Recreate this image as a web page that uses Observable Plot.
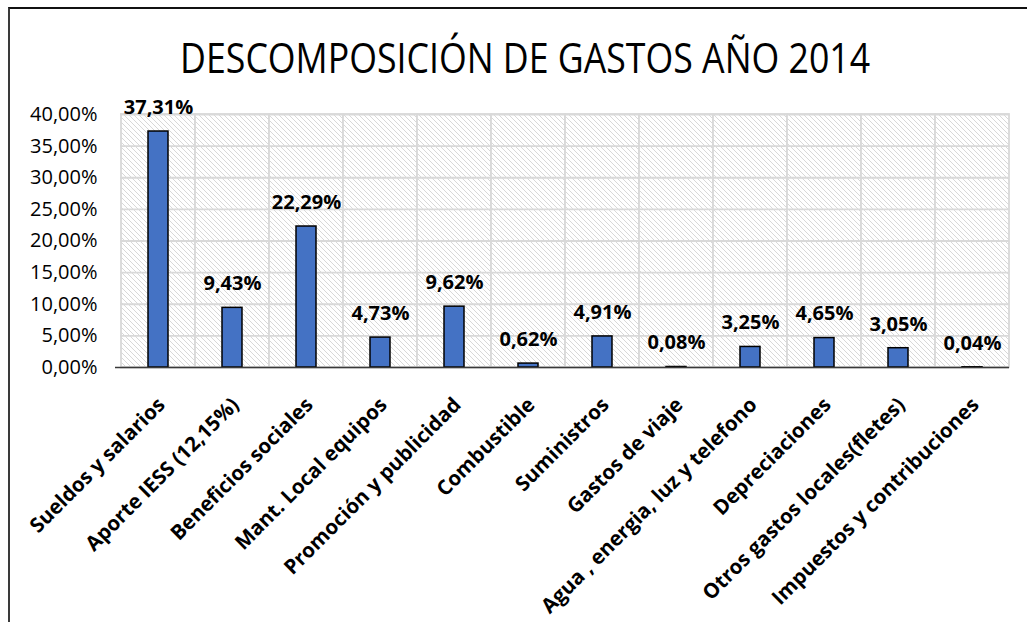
<!DOCTYPE html>
<html><head><meta charset="utf-8">
<script src="https://cdn.jsdelivr.net/npm/d3@7"></script>
<script src="https://cdn.jsdelivr.net/npm/@observablehq/plot@0.6"></script>
<style>
html,body{margin:0;padding:0;background:#fff;overflow:hidden;width:1027px;height:622px}
#frame{position:absolute;left:8px;top:7px;width:1100px;height:700px;border-left:2px solid #3a3a3a;border-top:2px solid #111;box-sizing:border-box}
#title{position:absolute;left:0;width:1050px;top:36px;text-align:center;font-family:'Open Sans',sans-serif;font-weight:400;font-size:42px;line-height:1;color:#000;white-space:nowrap}
#title span{display:inline-block;transform-origin:center}
#chart{position:absolute;left:0;top:96px}
</style></head><body>
<div id="frame"></div>
<svg width="0" height="0" style="position:absolute"><defs>
<pattern id="hatch" width="5" height="5" patternUnits="userSpaceOnUse">
<rect width="5" height="5" fill="#fff"/>
<path d="M-1,-1 L6,6 M-1,4 L1,6 M4,-1 L6,1" stroke="#d8d8d8" stroke-width="1"/>
</pattern></defs></svg>
<div id="title"><span>DESCOMPOSICIÓN DE GASTOS AÑO 2014</span></div>
<div id="chart"></div>
<script>
const categories = ["Sueldos y salarios","Aporte IESS (12,15%)","Beneficios sociales","Mant. Local equipos","Promoción y publicidad","Combustible","Suministros","Gastos de viaje","Agua , energia, luz y telefono","Depreciaciones","Otros gastos locales(fletes)","Impuestos y contribuciones"];
const values = [0.3731, 0.0943, 0.2229, 0.0473, 0.0962, 0.0062, 0.0491, 0.0008, 0.0325, 0.0465, 0.0305, 0.0004];
const yTicks = [0, 0.05, 0.10, 0.15, 0.20, 0.25, 0.30, 0.35, 0.40];

const locale = d3.formatLocale({decimal: ",", thousands: ".", grouping: [3], currency: ["$", ""], percent: "%"});
const fmt = locale.format(".2%");
const data = categories.map((c, i) => ({cat: c, value: values[i]}));

const chart = Plot.plot({
  width: 1027, height: 526,
  marginLeft: 120, marginRight: 18, marginTop: 18, marginBottom: 255,
  style: {fontFamily: "'Open Sans',sans-serif", color: "#000", background: "transparent", overflow: "visible"},
  x: {domain: categories, padding: 0, label: null},
  y: {domain: [0, 0.40], label: null},
  marks: [
    Plot.barY(categories, {x: d => d, y1: 0, y2: 0.40, fill: "url(#hatch)", stroke: "#d9d9d9", strokeWidth: 1.8}),
    Plot.gridY(yTicks, {stroke: "#d9d9d9", strokeOpacity: 1, strokeWidth: 1.8}),
    Plot.barY(data, {x: "cat", y: "value", fill: "#4472C4", stroke: "#000", strokeWidth: 1.5, insetLeft: 27, insetRight: 27}),
    Plot.ruleY([0], {stroke: "#3a3a3a", strokeWidth: 1.5, insetLeft: -5}),
    Plot.text(data, {x: "cat", y: "value", text: d => fmt(d.value), dy: -24, fontSize: 20, fontWeight: "bold"}),
    Plot.axisY(yTicks, {tickSize: 0, tickPadding: 23, fontSize: 20, tickFormat: fmt}),
    Plot.axisX({tickRotate: -45, tickSize: 0, tickPadding: 34, dx: 3, fontSize: 20.5, fontWeight: "bold"})
  ]
});
document.getElementById("chart").appendChild(chart);

const span = document.querySelector("#title span");
const w = span.getBoundingClientRect().width;
span.style.transform = `scaleX(${690 / w})`;
</script>
</body></html>
